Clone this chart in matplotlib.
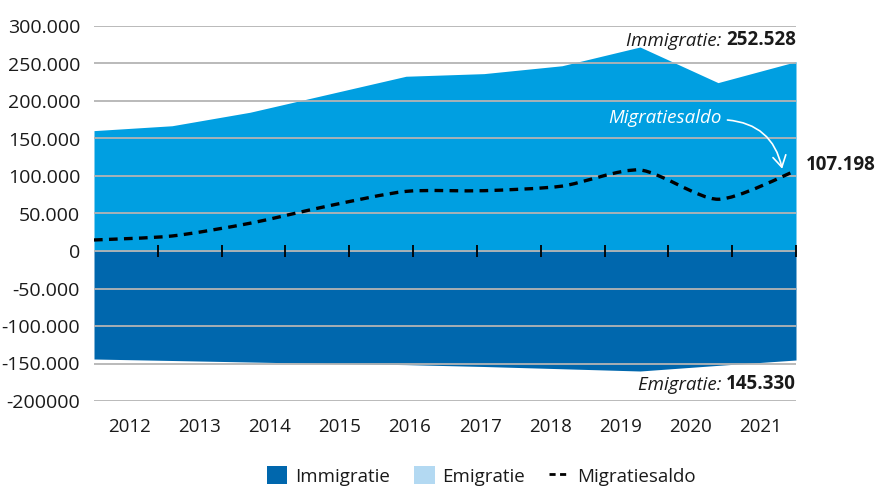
import matplotlib
matplotlib.use("Agg")
import matplotlib.pyplot as plt
from matplotlib.path import Path
from matplotlib.patches import PathPatch, Patch
from matplotlib.lines import Line2D
import numpy as np

plt.rcParams['font.family'] = ['Open Sans', 'DejaVu Sans']

years = ["2012", "2013", "2014", "2015", "2016", "2017", "2018", "2019", "2020", "2021"]
immigratie = [160500, 167000, 185000, 209000, 233000, 236500, 247000, 272000, 224500, 252528]
emigratie = [144000, 146000, 148000, 150000, 151500, 154000, 157000, 160000, 152500, 145330]
saldo = [14700, 20000, 37000, 60000, 79500, 80400, 86500, 108000, 69000, 107198]
yticks = [300000, 250000, 200000, 150000, 100000, 50000, 0, -50000, -100000, -150000, -200000]
ytick_labels = ["300.000", "250.000", "200.000", "150.000", "100.000", "50.000", "0",
                "-50.000", "-100.000", "-150.000", "-200000"]

LIGHT = "#009FE1"
DARK = "#0067AD"
LEGEND_LIGHT = "#B3D9F2"
GRID = "#B4B4B4"
TXT = "#1a1a1a"

fig = plt.figure(figsize=(8.8, 4.86), dpi=100)
ax = fig.add_axes([94 / 880, 1 - 401 / 486, 702 / 880, 375 / 486])

n = len(years)
x = np.arange(n)
ax.fill_between(x, 0, immigratie, color=LIGHT, lw=0, zorder=1)
ax.fill_between(x, 0, -np.array(emigratie), color=DARK, lw=0, zorder=1)

# smoothed saldo line (Catmull-Rom -> cubic Bezier)
P = np.column_stack([x, saldo]).astype(float)
verts = [P[0]]
codes = [Path.MOVETO]
for i in range(n - 1):
    p0 = P[i - 1] if i > 0 else P[i]
    p1 = P[i]
    p2 = P[i + 1]
    p3 = P[i + 2] if i + 2 < n else P[i + 1]
    c1 = p1 + (p2 - p0) / 8
    c2 = p2 - (p3 - p1) / 8
    verts += [c1, c2, p2]
    codes += [Path.CURVE4] * 3
patch = PathPatch(Path(verts, codes), fill=False, edgecolor="black", lw=2.4,
                  linestyle=(0, (2.6, 1.9)), zorder=3, capstyle='butt')
ax.add_patch(patch)

ax.set_xlim(0, n - 1)
ax.set_ylim(-200000, 300000)

for s in ax.spines.values():
    s.set_visible(False)

ax.set_yticks(yticks)
ax.set_yticklabels(ytick_labels)
ax.yaxis.grid(True, color=GRID, lw=1.3)
ax.set_axisbelow(False)
ax.tick_params(axis='y', length=0, pad=10, labelsize=14, labelcolor=TXT)

label_pos = [(k + 0.5) * (n - 1) / n for k in range(n)]
ax.set_xticks(label_pos)
ax.set_xticklabels(years)
ax.tick_params(axis='x', length=0, pad=12, labelsize=13.5, labelcolor=TXT)

# tick marks on the zero line
sec = ax.secondary_xaxis(0.4)
sec.set_xticks([(k + 1) * (n - 1) / 11 for k in range(11)])
sec.set_xticklabels([])
sec.tick_params(direction='inout', length=9, width=1.3, color='black')
sec.spines['bottom'].set_visible(False)
sec.set_zorder(5)

# annotations
t1 = ax.text(n - 1, 281000, "252.528", ha='right', va='center', fontsize=13.5,
             fontweight='bold', color=TXT, clip_on=False)
ax.annotate("Immigratie: ", xy=(0, 0), xycoords=t1, ha='right', va='bottom',
            fontsize=13.5, style='italic', color=TXT)
t2 = ax.text(n - 1, -177000, "145.330", ha='right', va='center', fontsize=13.5,
             fontweight='bold', color=TXT, clip_on=False)
ax.annotate("Emigratie: ", xy=(0, 0), xycoords=t2, ha='right', va='bottom',
            fontsize=13.5, style='italic', color=TXT)
ax.annotate("107.198", xy=(n - 1, saldo[-1]), xytext=(10, 6), textcoords='offset pixels',
            ha='left', va='center', fontsize=13.5, fontweight='bold', color=TXT,
            annotation_clip=False)
ax.annotate("Migratiesaldo", xy=(8.83, 106000), xytext=(8.05, 177500),
            ha='right', va='center', fontsize=13.5, style='italic', color='white',
            arrowprops=dict(arrowstyle='->,head_length=0.6,head_width=0.35', color='white', lw=1.2,
                            connectionstyle='arc3,rad=-0.4', relpos=(1, 0.4),
                            shrinkA=2, shrinkB=2))

handles = [Patch(facecolor=DARK, edgecolor='none'),
           Patch(facecolor=LEGEND_LIGHT, edgecolor='none'),
           Line2D([], [], color='black', lw=2, linestyle=(0, (2.2, 1.6)))]
fig.legend(handles, ["Immigratie", "Emigratie", "Migratiesaldo"], loc='center',
           bbox_to_anchor=(0.547, 1 - 476 / 486), ncol=3, frameon=False,
           fontsize=13.5, handlelength=1.1, handleheight=1.05, handletextpad=0.4,
           columnspacing=1.3, labelcolor=TXT)

fig.savefig("out.png", dpi=100)
